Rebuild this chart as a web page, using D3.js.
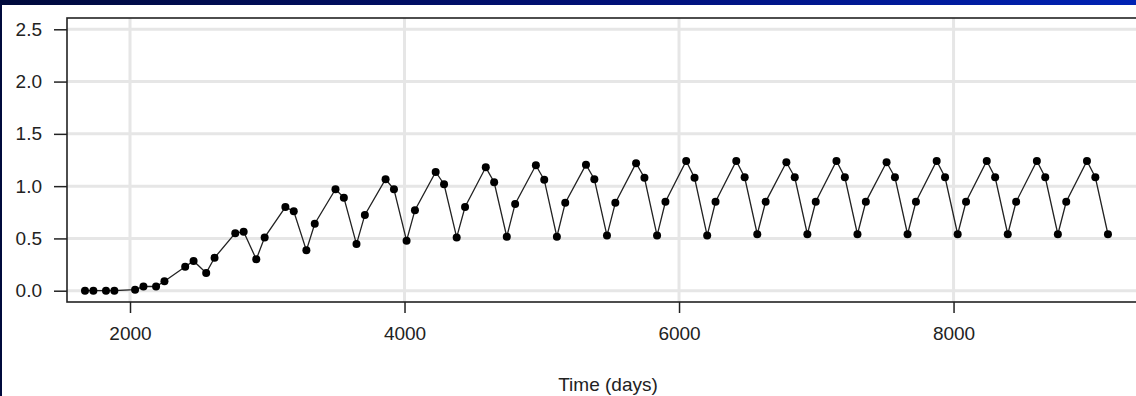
<!DOCTYPE html>
<html>
<head>
<meta charset="utf-8">
<script src="https://cdn.jsdelivr.net/npm/d3@7"></script>
<style>
  html, body { margin: 0; padding: 0; background: #fff; }
  svg { display: block; }
  text { font-family: "Liberation Sans", Arial, sans-serif; fill: #222; }
</style>
</head>
<body>
<svg id="chart" width="1136" height="396"></svg>
<script>
const days = [
  1672, 1733, 1825, 1886,
  2037, 2098, 2190, 2251,
  2402, 2463, 2555, 2616,
  2767, 2828, 2920, 2981,
  3132, 3193, 3285, 3346,
  3497, 3558, 3650, 3711,
  3862, 3923, 4015, 4076,
  4227, 4288, 4380, 4441,
  4592, 4653, 4745, 4806,
  4957, 5018, 5110, 5171,
  5322, 5383, 5475, 5536,
  5687, 5748, 5840, 5901,
  6052, 6113, 6205, 6266,
  6417, 6478, 6570, 6631,
  6782, 6843, 6935, 6996,
  7147, 7208, 7300, 7361,
  7512, 7573, 7665, 7726,
  7877, 7938, 8030, 8091,
  8242, 8303, 8395, 8456,
  8607, 8668, 8760, 8821,
  8972, 9033, 9125
];
const conc = [
  0, 0, 0, 0,
  0.01, 0.04, 0.04, 0.09,
  0.23, 0.285, 0.17, 0.315,
  0.55, 0.565, 0.30, 0.51,
  0.80, 0.76, 0.386, 0.64,
  0.97, 0.89, 0.446, 0.725,
  1.066, 0.97, 0.478, 0.77,
  1.136, 1.018, 0.51, 0.80,
  1.18, 1.037, 0.516, 0.83,
  1.20, 1.06, 0.516, 0.84,
  1.205, 1.066, 0.527, 0.84,
  1.22, 1.08, 0.527, 0.85,
  1.24, 1.08, 0.527, 0.85,
  1.24, 1.085, 0.54, 0.85,
  1.228, 1.085, 0.54, 0.85,
  1.24, 1.085, 0.54, 0.85,
  1.228, 1.085, 0.54, 0.85,
  1.24, 1.085, 0.54, 0.85,
  1.24, 1.085, 0.54, 0.85,
  1.24, 1.085, 0.54, 0.85,
  1.24, 1.085, 0.54
];
const xTicks = [2000, 4000, 6000, 8000];
const yTicks = [0, 0.5, 1.0, 1.5, 2.0, 2.5];
const xTitle = "Time (days)";

const svg = d3.select("#chart");
const W = 1136, H = 396;
const L = 67, R = 1149, T = 18, B = 302;

// frame decoration
const defs = svg.append("defs");
const grad = defs.append("linearGradient").attr("id", "topband").attr("x1", "0%").attr("x2", "100%");
grad.append("stop").attr("offset", "0%").attr("stop-color", "#000a3c");
grad.append("stop").attr("offset", "55%").attr("stop-color", "#001078");
grad.append("stop").attr("offset", "100%").attr("stop-color", "#0022b4");
svg.append("rect").attr("x", 0).attr("y", 0).attr("width", W).attr("height", H).attr("fill", "#fff");
svg.append("rect").attr("x", 0).attr("y", 0).attr("width", W).attr("height", 5).attr("fill", "url(#topband)");
svg.append("rect").attr("x", 0).attr("y", 0).attr("width", 2).attr("height", H).attr("fill", "#000a3c");

const x = d3.scaleLinear().domain([1541, 9424]).range([L, R]);
const y = d3.scaleLinear().domain([-0.108, 2.608]).range([B, T]);

// grid
const g = svg.append("g");
g.selectAll("line.hg").data(yTicks).join("line")
  .attr("x1", L).attr("x2", R)
  .attr("y1", d => y(d)).attr("y2", d => y(d))
  .attr("stroke", "#e6e6e6").attr("stroke-width", 3);
g.selectAll("line.vg").data(xTicks).join("line")
  .attr("y1", T).attr("y2", B)
  .attr("x1", d => x(d)).attr("x2", d => x(d))
  .attr("stroke", "#e6e6e6").attr("stroke-width", 3);

// axes
const yAxis = d3.axisLeft(y).tickValues(yTicks).tickFormat(d3.format(".1f")).tickSize(13).tickPadding(12);
const xAxis = d3.axisBottom(x).tickValues(xTicks).tickFormat(d3.format("d")).tickSize(11).tickPadding(14);
const ya = svg.append("g").attr("transform", `translate(${L},0)`).call(yAxis);
const xa = svg.append("g").attr("transform", `translate(0,${B})`).call(xAxis);
[ya, xa].forEach(a => {
  a.select(".domain").remove();
  a.selectAll(".tick line").attr("stroke", "#222").attr("stroke-width", 1.5);
  a.selectAll(".tick text").attr("font-size", 19).attr("fill", "#222")
    .attr("font-family", "'Liberation Sans', Arial, sans-serif");
});

// box
svg.append("rect").attr("x", L).attr("y", T).attr("width", R - L).attr("height", B - T)
  .attr("fill", "none").attr("stroke", "#222").attr("stroke-width", 1.6);

// data
const pts = days.map((d, i) => [d, conc[i]]);
const line = d3.line().x(d => x(d[0])).y(d => y(d[1]));
svg.append("path").datum(pts).attr("d", line)
  .attr("fill", "none").attr("stroke", "#222").attr("stroke-width", 1.3);
svg.selectAll("circle.pt").data(pts).join("circle")
  .attr("cx", d => x(d[0])).attr("cy", d => y(d[1])).attr("r", 4).attr("fill", "#000");

// title
svg.append("text").attr("x", (L + R) / 2).attr("y", 391).attr("text-anchor", "middle")
  .attr("font-size", 19).text(xTitle);
</script>
</body>
</html>
